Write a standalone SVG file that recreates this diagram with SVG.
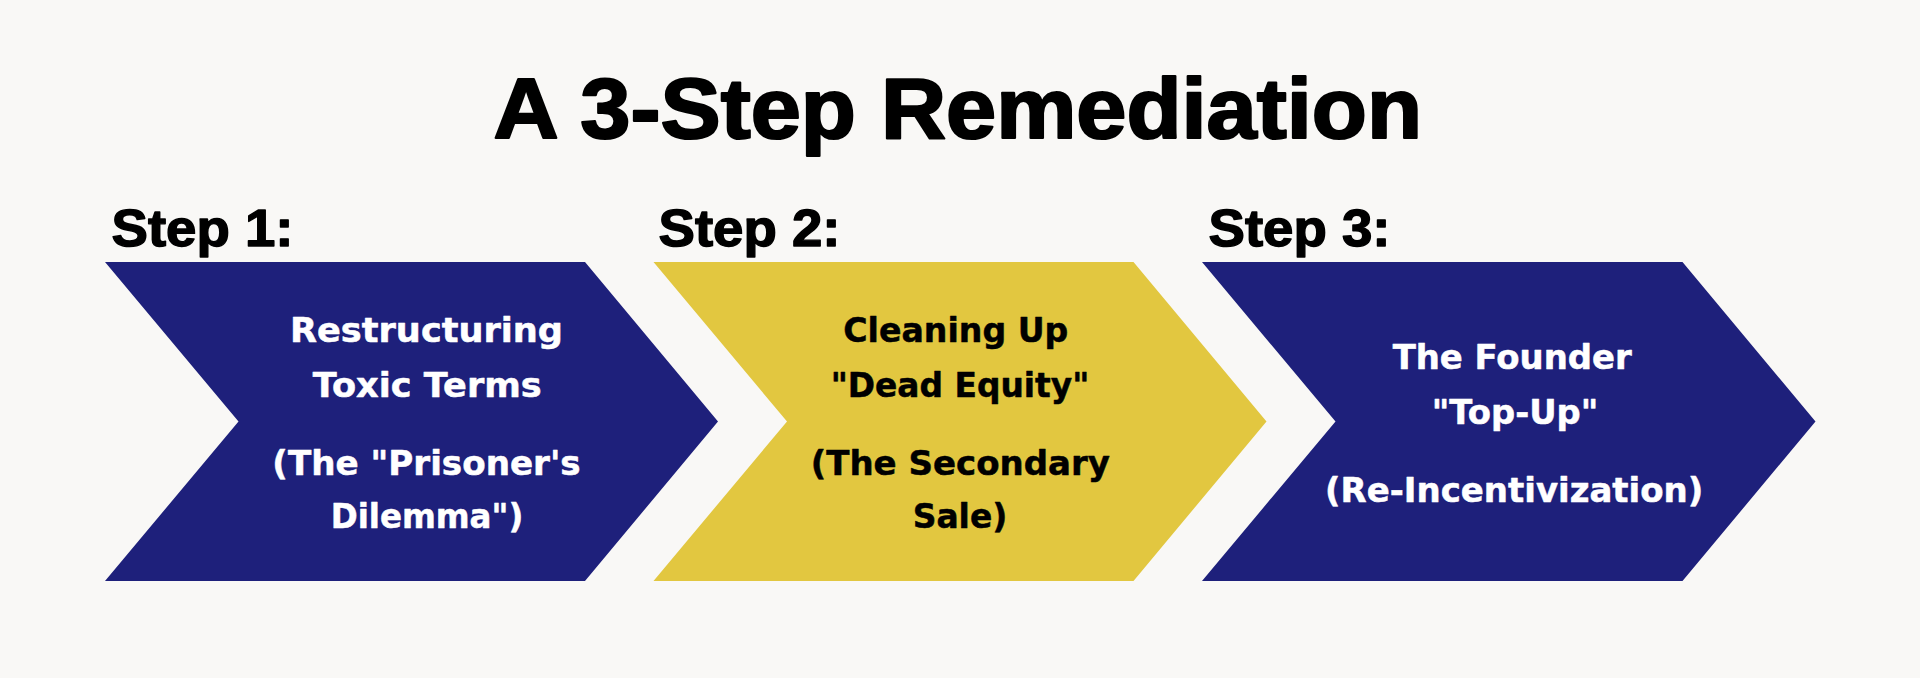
<svg xmlns="http://www.w3.org/2000/svg" width="1920" height="678" viewBox="0 0 1920 678">
<style>
.bg{fill:#f9f8f6}
.title{font-family:"Liberation Sans",Arial,sans-serif;font-weight:bold;font-size:86px;fill:#000;stroke:#000;stroke-width:2.2px;stroke-linejoin:round}
.step{font-family:"Liberation Sans",Arial,sans-serif;font-weight:bold;font-size:52.5px;fill:#000;stroke:#000;stroke-width:1.4px;stroke-linejoin:round}
.blue{fill:#1e207b}
.yellow{fill:#e2c740}
.t{font-family:"DejaVu Sans","Liberation Sans",sans-serif;font-weight:bold;font-size:33.5px;stroke-width:0.5px;stroke-linejoin:round}
.w{fill:#ffffff;stroke:#ffffff}
.k{fill:#000000;stroke:#000000}
</style>
<rect class="bg" x="0" y="0" width="1920" height="678"/>
<g id="title">
<text class="title" x="493.5" y="137.5" textLength="928.5" lengthAdjust="spacingAndGlyphs">A 3-Step Remediation</text>
</g>
<g id="step1">
<text class="step" x="111.5" y="245.5" textLength="182" lengthAdjust="spacingAndGlyphs">Step 1:</text>
<polygon class="blue" points="105,262 585,262 718,421.5 585,581 105,581 238.5,421.5"/>
<text class="t w" x="290" y="341.7" textLength="273" lengthAdjust="spacingAndGlyphs">Restructuring</text>
<text class="t w" x="312.7" y="396.7" textLength="229" lengthAdjust="spacingAndGlyphs">Toxic Terms</text>
<text class="t w" x="272.3" y="474.5" textLength="308.4" lengthAdjust="spacingAndGlyphs">(The "Prisoner's</text>
<text class="t w" x="330.7" y="528.3" textLength="192.6" lengthAdjust="spacingAndGlyphs">Dilemma")</text>
</g>
<g id="step2">
<text class="step" x="658.5" y="245.5" textLength="182" lengthAdjust="spacingAndGlyphs">Step 2:</text>
<polygon class="yellow" points="653.5,262 1133.5,262 1266.5,421.5 1133.5,581 653.5,581 787,421.5"/>
<text class="t k" x="843.3" y="341.7" textLength="225" lengthAdjust="spacingAndGlyphs">Cleaning Up</text>
<text class="t k" x="830.7" y="396.7" textLength="258.6" lengthAdjust="spacingAndGlyphs">"Dead Equity"</text>
<text class="t k" x="810.7" y="474.5" textLength="299.3" lengthAdjust="spacingAndGlyphs">(The Secondary</text>
<text class="t k" x="912.7" y="528.3" textLength="94.6" lengthAdjust="spacingAndGlyphs">Sale)</text>
</g>
<g id="step3">
<text class="step" x="1208.5" y="245.5" textLength="182" lengthAdjust="spacingAndGlyphs">Step 3:</text>
<polygon class="blue" points="1202,262 1682.5,262 1815.5,421.5 1682.5,581 1202,581 1335.5,421.5"/>
<text class="t w" x="1392.7" y="369.3" textLength="239" lengthAdjust="spacingAndGlyphs">The Founder</text>
<text class="t w" x="1431.7" y="424.3" textLength="166.6" lengthAdjust="spacingAndGlyphs">"Top-Up"</text>
<text class="t w" x="1325" y="501.7" textLength="378.3" lengthAdjust="spacingAndGlyphs">(Re-Incentivization)</text>
</g>
</svg>
